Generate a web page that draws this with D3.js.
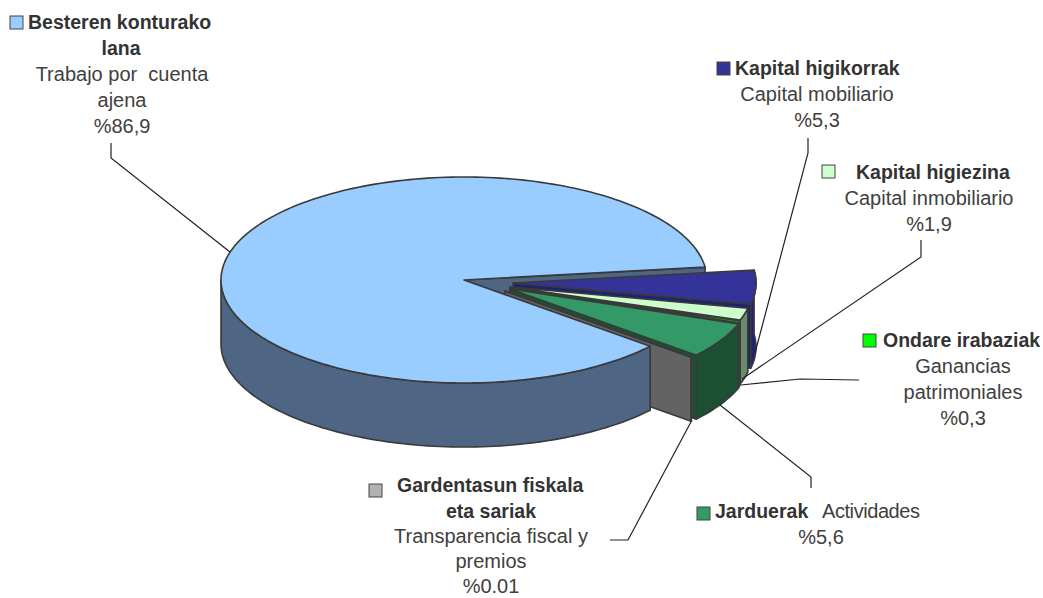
<!DOCTYPE html>
<html>
<head>
<meta charset="utf-8">
<script src="https://cdn.jsdelivr.net/npm/d3@7"></script>
<style>
  html, body { margin: 0; padding: 0; background: #fff; }
  text { font-family: "Liberation Sans", Arial, sans-serif; font-size: 20px; fill: #404040; }
  text.name { font-size: 19.5px; font-weight: bold; fill: #333; }
</style>
</head>
<body>
<div id="chart"></div>
<script>
// slices, clockwise from the upper right of the pie
const categories = ["Kapital higikorrak", "Kapital higiezina", "Ondare irabaziak", "Jarduerak", "Gardentasun fiskala eta sariak", "Besteren konturako lana"];
const shares = [5.3, 1.9, 0.3, 5.6, 0.01, 86.9];

const width = 1043, height = 598;
const rx = 243, ry = 103, depth = 64;
const center = { x: 464, y: 280 };
const startDeg = -7.2;

const topColors = ["#333399", "#ccffcc", "#00ff00", "#339966", "#969696", "#99ccff"];
const sideColors = ["#1f2370", "#6b8a6b", "#0a6a0a", "#1b5035", "#636363", "#4f6584"];
const legendColors = ["#333399", "#ccffcc", "#00ff00", "#339966", "#b2b2b2", "#99ccff"];
const explode = [[49, 3], [46, 7], [46, 8], [46, 9], [41, 11], [0, 0]];

const svg = d3.select("#chart").append("svg")
  .attr("width", width)
  .attr("height", height)
  .style("display", "block");

const startAngle = (startDeg + 90) * Math.PI / 180;
const arcs = d3.pie().sort(null).startAngle(startAngle).endAngle(startAngle + 2 * Math.PI)(shares);

const line = d3.line();
const rim = (a, o, drop) => [
  center.x + o[0] + rx * Math.sin(a),
  center.y + o[1] - ry * Math.cos(a) + drop
];
const rimPoints = (a0, a1, o, drop) => {
  const n = Math.max(2, Math.ceil(Math.abs(a1 - a0) * 40));
  return d3.range(n + 1).map(i => rim(a0 + (a1 - a0) * i / n, o, drop));
};

const pieG = svg.append("g")
  .attr("stroke", "#3a3a3a")
  .attr("stroke-width", 1.6)
  .attr("stroke-linejoin", "round");

function face(points, fill) {
  pieG.append("path").attr("d", line(points) + "Z").attr("fill", fill);
}

// inner wall of the big slice shows through the gap behind the exploded ones
const big = arcs[5];
const bigEnd = rim(big.endAngle, explode[5], 0);
face([[center.x, center.y], bigEnd, [bigEnd[0], bigEnd[1] + depth], [center.x, center.y + depth]], sideColors[5]);

// small slices back to front, then the big one on top of them
arcs.forEach((d, i) => {
  const o = explode[i];
  const apex = [center.x + o[0], center.y + o[1]];
  const a0 = d.startAngle, a1 = d.endAngle;
  // cut face on the clockwise side
  if (i < 5) {
    const p = rim(a1, o, 0);
    face([apex, p, [p[0], p[1] + depth], [apex[0], apex[1] + depth]], sideColors[i]);
  }
  // outer wall, front half only
  const hi = i === 5 ? Math.PI * 1.5 : a1;
  const front = rimPoints(a0, hi, o, 0);
  const back = rimPoints(hi, a0, o, depth);
  face(front.concat(back), sideColors[i]);
  // top
  face([apex].concat(rimPoints(a0, a1, o, 0)), topColors[i]);
});

// leader lines
const leaders = [
  [[808, 138], [808, 153], [755, 353]],
  [[921, 240], [921, 257], [742, 379]],
  [[859, 380], [800, 379], [741, 385]],
  [[811, 488], [811, 477], [720, 405]],
  [[692, 420], [628, 540], [610, 540]],
  [[111, 143], [111, 158], [230, 252]]
];
svg.append("g").selectAll("path")
  .data(leaders)
  .enter().append("path")
  .attr("d", d => line(d))
  .attr("fill", "none")
  .attr("stroke", "#222")
  .attr("stroke-width", 1.2);

// centred label lines, one list per block
const labelBlocks = [
  { x: 817, y: 101, step: 26, lines: ["Capital mobiliario", "%5,3"] },
  { x: 929, y: 205, step: 26, lines: ["Capital inmobiliario", "%1,9"] },
  { x: 963, y: 373, step: 26, lines: ["Ganancias", "patrimoniales", "%0,3"] },
  { x: 821, y: 544, step: 26, lines: ["%5,6"] },
  { x: 491, y: 543, step: 25, lines: ["Transparencia fiscal y", "premios", "%0.01"] },
  { x: 122, y: 81, step: 26, lines: ["Trabajo por  cuenta", "ajena", "%86,9"] }
];
labelBlocks.forEach(b => {
  b.lines.forEach((t, i) => {
    svg.append("text").attr("x", b.x).attr("y", b.y + i * b.step)
      .attr("text-anchor", "middle").style("white-space", "pre").text(t);
  });
});

// legend keys with the bold name next to each
const keyPos = [[717, 62, 735, 75], [822, 165, 856, 179], [863, 334, 883, 347], [697, 507, 715, 518], [369, 484, 397, 492], [10, 16, 28, 29]];
const keyNames = [categories[0], categories[1], categories[2], categories[3], "Gardentasun fiskala", "Besteren konturako"];
keyPos.forEach((k, i) => {
  svg.append("rect").attr("x", k[0]).attr("y", k[1]).attr("width", 13).attr("height", 13)
    .attr("fill", legendColors[i]).attr("stroke", "#444").attr("stroke-width", 1);
  svg.append("text").attr("class", "name").attr("x", k[2]).attr("y", k[3]).text(keyNames[i]);
});
svg.append("text").attr("class", "name").attr("x", 491).attr("y", 518).attr("text-anchor", "middle").text("eta sariak");
svg.append("text").attr("class", "name").attr("x", 121).attr("y", 55).attr("text-anchor", "middle").text("lana");
svg.append("text").attr("x", 822).attr("y", 518).attr("textLength", 98).text("Actividades");
</script>
</body>
</html>
